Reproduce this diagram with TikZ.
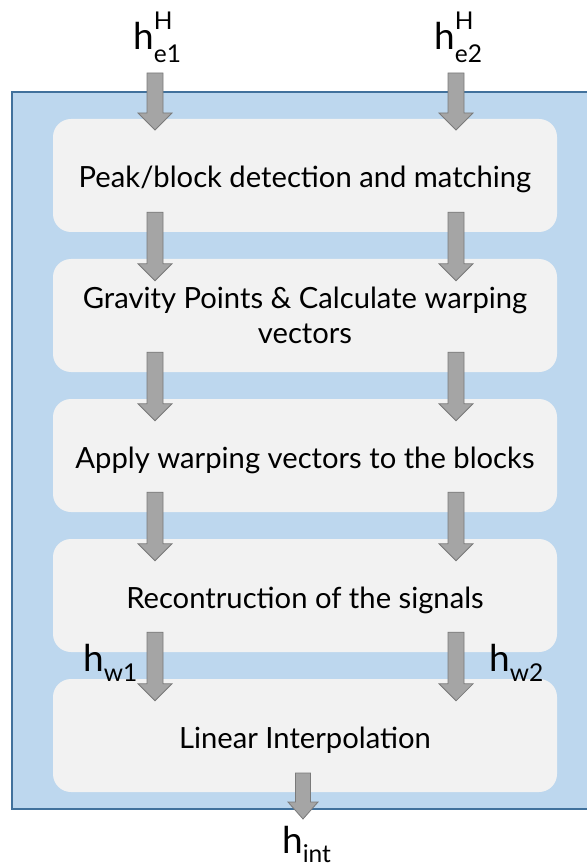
\documentclass[tikz,border=0pt]{standalone}
\usepackage{fontspec}
\setmainfont{Lato}
\usetikzlibrary{calc}
\definecolor{outerfill}{HTML}{BDD7EE}
\definecolor{outerline}{HTML}{41719C}
\definecolor{boxfill}{HTML}{F2F2F2}
\definecolor{arrfill}{HTML}{A5A5A5}
\definecolor{arrline}{HTML}{7A7A7A}
\newcommand\blockarr[4]{% start, end, half shaft, half head
  \filldraw[blockarrow] let \p1=(#1), \p2=(#2) in
    (\x1-#3,\y1) -- (\x1+#3,\y1) -- (\x1+#3,\y2+17) -- (\x1+#4,\y2+17)
    -- (\x1,\y2) -- (\x1-#4,\y2+17) -- (\x1-#3,\y2+17) -- cycle;}
\newcommand\scr[1]{{\fontsize{24.5}{25}\selectfont #1}}
\newcommand\hsupsub[3]{h\rlap{\raisebox{#3pt}{\scr{H}}}\raisebox{-#2pt}{\scr{#1}}}
\newcommand\hsub[2]{h\raisebox{-#2pt}{\scr{#1}}}
\begin{document}
\begin{tikzpicture}[x=1pt,y=-1pt,
  stagebox/.style={fill=boxfill, rounded corners=18pt, minimum width=504pt,
    minimum height=113pt, align=center, font=\fontsize{29.2}{35}\selectfont, inner sep=0pt,
    text height=31pt, text depth=6pt},
  blockarrow/.style={fill=arrfill, draw=arrline, line width=0.8pt},
  lab/.style={font=\fontsize{37}{38}\selectfont, inner sep=0pt, anchor=base west}]
\useasboundingbox (0,0) rectangle (586,866);
\draw[fill=outerfill, draw=outerline, line width=1.8pt] (12,92) rectangle (600,809);
\node[stagebox] (b1) at (305,175.5) {Peak/block detection and matching};
\node[stagebox, text height=61pt] (b2) at (305,315.5) {Gravity Points \& Calculate warping\\vectors};
\node[stagebox] (b3) at (305,455.5) {Apply warping vectors to the blocks};
\node[stagebox] (b4) at (305,595.5) {Recontruction of the signals};
\node[stagebox] (b5) at (305,735.5) {Linear Interpolation};
\node[lab] (he1) at (133,50) {\hsupsub{e1}{12.7}{20.7}};
\node[lab] (he2) at (434,50) {\hsupsub{e2}{12.7}{20.7}};
\node[lab] (hw1) at (83,671.5) {\hsub{w1}{10}};
\node[lab] (hw2) at (489,671.5) {\hsub{w2}{10}};
\node[lab] (hint) at (282,853) {\hsub{int}{9}};
% arrow coordinates
\coordinate (t1s) at (155,73);  \coordinate (t1e) at (155,130);
\coordinate (t2s) at (456,73);  \coordinate (t2e) at (456,130);
\foreach \i/\j in {1/2,2/3,3/4,4/5}{
  \coordinate (l\i s) at ($(b\i.south)+(-150,-20)$);
  \coordinate (l\i e) at ($(b\j.north)+(-150,22)$);
  \coordinate (r\i s) at ($(b\i.south)+(151,-20)$);
  \coordinate (r\i e) at ($(b\j.north)+(151,22)$);
}
\coordinate (os) at (303,773); \coordinate (oe) at (303,819);
\blockarr{t1s}{t1e}{8}{17}
\blockarr{t2s}{t2e}{8}{17}
\foreach \i in {1,2,3,4}{
  \blockarr{l\i s}{l\i e}{8}{17}
  \blockarr{r\i s}{r\i e}{8}{17}
}
\blockarr{os}{oe}{7.5}{15}
\end{tikzpicture}
\end{document}
